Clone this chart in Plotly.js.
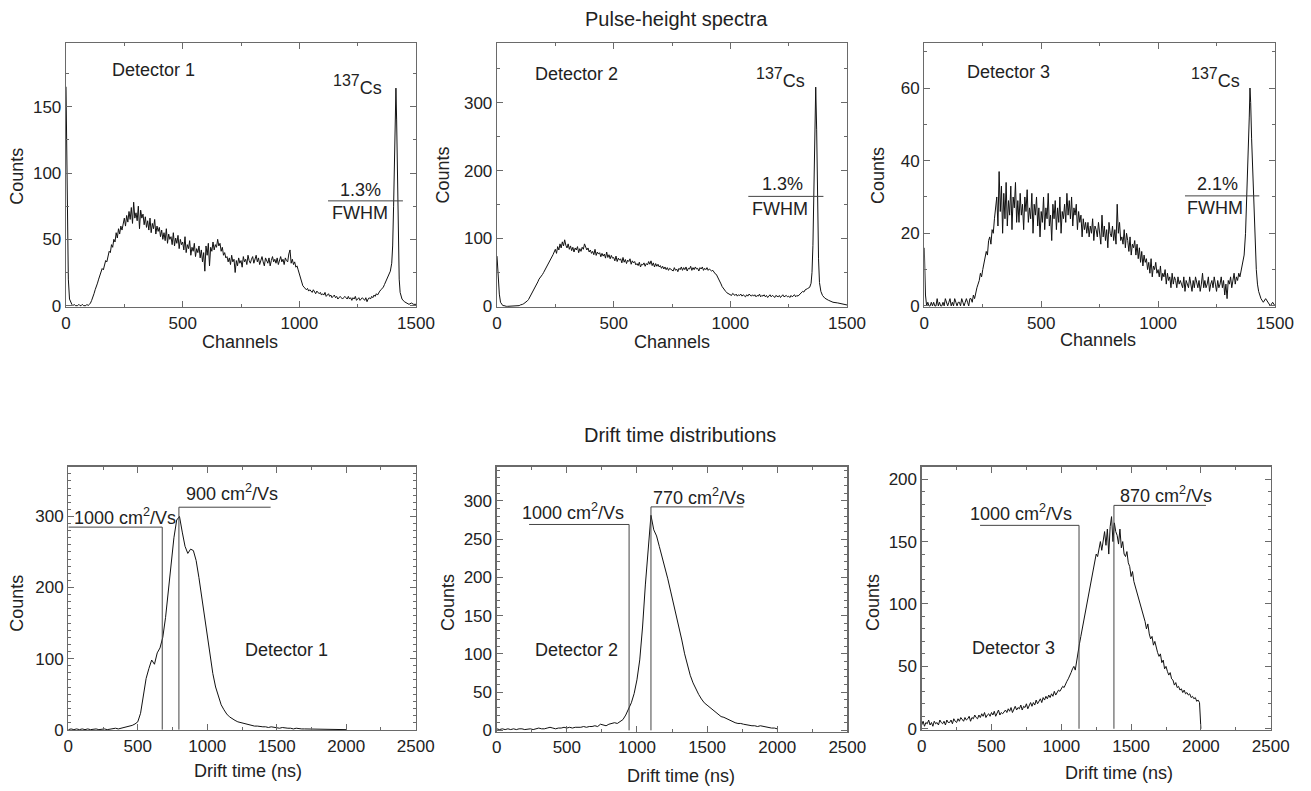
<!DOCTYPE html>
<html><head><meta charset="utf-8">
<script src="https://cdn.plot.ly/plotly-3.0.1.min.js"></script>
<style>html,body{margin:0;padding:0;background:#fff}#chart{width:1311px;height:791px}</style>
</head><body><div id="chart"></div>
<script>
// ---------- DATA ----------
const panelTitles = ['Pulse-height spectra', 'Drift time distributions'];
const detectorNames = ['Detector 1', 'Detector 2', 'Detector 3'];
const fwhmLabels = ['1.3%', '1.3%', '2.1%'];
const mobilityLabels = [
  ['1000 cm<sup>2</sup>/Vs', '900 cm<sup>2</sup>/Vs'],
  ['1000 cm<sup>2</sup>/Vs', '770 cm<sup>2</sup>/Vs'],
  ['1000 cm<sup>2</sup>/Vs', '870 cm<sup>2</sup>/Vs']
];
// drift times (ns) corresponding to the marked mobilities
const mobilityTimes = [[676, 796], [944, 1100], [1127, 1377]];
// FWHM level (counts) of the 137Cs photopeak
const fwhmLevels = [79, 162, 30.3];

// Pulse-height spectra: body sampled every 5 channels from 0
const phStep = 5;
const counts1Body = [
 165,60,20,5,2,1,0,1,0,0,0,1,0,0,1,0,0,0,1,0,
 1,2,4,6,9,12,14,17,20,23,25,28,27,32,34,33,38,41,40,46,
 44,50,48,55,51,58,54,60,57,63,66,60,68,63,71,65,74,62,78,66,
 70,64,75,58,72,66,69,61,67,59,64,57,66,55,62,58,65,54,60,56,
 59,52,57,50,55,49,58,47,54,50,52,46,55,45,51,47,53,43,50,46,
 48,42,52,40,46,43,49,38,44,41,47,37,43,40,45,36,42,33,40,26,
 45,38,47,30,44,41,48,42,46,44,50,45,47,41,44,38,40,36,37,33,
 36,31,38,33,35,25,34,30,36,32,34,29,37,33,35,31,38,34,32,35,
 37,32,35,38,33,36,31,35,37,33,30,36,34,32,36,30,34,37,33,35,
 32,36,31,34,37,33,35,31,36,34,33,39,42,32,35,31,33,29,30,27,
 24,20,17,15,14,13,12,13,11,12,11,10,12,10,9,11,10,9,10,8,
 9,8,10,7,8,9,7,8,6,7,8,6,7,5,6,7,6,5,6,7,
 6,5,7,5,6,4,6,5,7,4,5,6,4,5,6,5,4,6,3,5,
 6,5,7,6,8,7,9,8,10,11,12,13,14,16,18,20,22];
const peak1Ch = [1390,1396,1400,1404,1408,1411,1414,1417,1420,1424,1428,1432,1440,1450,1460,1470,1480,1490,1500];
const peak1Counts = [26,32,45,75,115,150,164,140,95,48,20,10,5,3,2,1,2,1,1];

const counts2Body = [
 74,40,18,6,3,1,1,0,0,0,0,0,1,0,0,1,0,1,1,1,
 2,2,3,4,5,6,8,10,13,16,20,22,26,29,33,36,40,42,45,47,
 50,53,56,60,62,66,70,72,76,80,84,78,88,83,92,86,95,89,98,90,
 86,92,84,89,82,87,80,86,83,88,79,85,81,87,84,92,88,83,86,80,
 83,78,81,76,84,75,80,77,79,73,78,74,77,71,80,72,76,70,75,71,
 72,67,74,66,71,68,70,64,72,65,69,63,68,66,70,62,67,64,66,61,
 63,60,65,58,62,61,64,59,63,61,66,62,67,60,64,58,63,59,62,58,
 60,56,59,55,58,54,57,53,56,55,54,52,57,53,55,51,56,54,58,53,
 57,54,58,52,56,55,59,53,57,54,58,55,56,52,57,55,58,53,56,54,
 57,53,55,54,52,53,50,48,47,44,40,36,33,29,26,24,22,20,19,18,
 18,16,19,17,16,18,15,17,16,18,15,17,16,14,17,15,18,16,15,17,
 15,17,14,16,15,18,14,16,15,17,14,16,13,15,17,14,16,15,13,16,
 15,14,16,13,15,17,14,15,16,14,15,13,16,14,15,17,14,16,15,17,
 18,20,22,21,24];
const peak2Ch = [1330,1340,1346,1350,1354,1358,1362,1366,1370,1374,1378,1382,1388,1395,1405,1420,1440,1460,1480,1500];
const peak2Counts = [26,28,34,50,90,170,270,323,260,150,70,35,22,16,12,9,6,5,4,2];

const counts3Body = [
 16,3,0,1,0,0,1,0,1,0,0,2,0,1,0,0,1,0,2,1,
 0,1,2,0,1,0,2,1,0,1,1,0,2,1,0,1,2,1,0,2,
 2,1,3,2,4,5,6,7,9,8,10,12,13,15,14,18,19,17,21,20,
 24,28,30,22,37,26,33,20,31,24,34,22,29,25,33,21,30,27,34,23,
 29,23,31,25,28,21,30,26,32,23,27,24,31,20,28,25,30,22,27,19,
 26,23,30,21,27,24,31,22,25,18,28,24,29,21,27,23,30,20,26,24,
 28,23,31,25,29,24,30,22,27,25,28,21,26,23,25,19,24,21,23,20,
 23,19,22,20,24,18,22,21,19,23,20,17,25,19,22,18,21,16,23,20,
 19,22,18,21,17,28,20,23,18,19,17,21,16,20,18,15,19,14,17,16,
 18,14,17,13,16,12,15,11,14,12,13,10,12,9,13,8,11,10,12,9,
 10,8,11,7,9,8,10,6,9,7,8,5,9,6,8,7,5,8,6,7,
 6,5,8,4,7,6,5,8,6,4,7,5,8,6,5,7,4,6,9,5,
 7,5,6,8,4,6,7,5,8,6,4,7,5,6,8,5,7,3,6,2,
 7,6,8,5,7,9,6,8,7,9,8,10,12];
const peak3Ch = [1368,1374,1380,1385,1390,1393,1396,1400,1405,1410,1415,1420,1425,1430,1440,1450,1460,1470,1480,1490,1500];
const peak3Counts = [14,20,30,40,52,60,56,46,36,26,17,10,6,4,2,1,2,1,0,1,0];

// Drift time distributions (ns): sampling step per detector, starting at 0 ns
const dtSteps = [20, 20, 10];
const drift1 = [0,1,0,1,0,1,0,1,0,1,
 1,0,1,1,0,1,1,2,1,2,
 2,3,4,6,8,11,23,48,72,86,
 98,92,108,115,130,158,196,238,270,295,
 300,278,258,248,254,252,238,214,186,158,
 130,102,79,60,46,35,28,22,18,15,
 13,11,10,8,7,6,6,5,5,4,
 4,4,3,4,3,3,2,3,2,2,
 2,1,2,1,1,1,1,0,1,1,
 0,1,0,1,0,0,0,0,0,0,
 0];
const drift2 = [2,1,2,1,2,1,2,1,2,2,
 1,2,2,1,2,3,2,2,3,4,
 3,2,3,3,4,3,4,3,4,4,
 4,5,4,5,5,6,5,8,7,6,
 8,9,10,9,12,14,20,27,36,48,
 66,92,135,190,242,281,262,254,240,226,
 214,198,182,167,152,136,118,100,86,72,
 62,54,47,41,36,33,30,26,24,21,
 18,17,15,14,12,10,9,9,8,7,
 7,6,6,5,6,5,4,4,3,3,
 2];
const drift3 = [
 3,6,2,5,4,7,3,5,2,6,4,5,3,7,5,4,6,3,7,5,
 5,7,4,8,6,5,8,6,9,7,6,9,7,8,10,6,9,8,11,9,
 8,11,9,12,10,13,9,11,12,10,13,11,14,10,12,15,11,13,12,14,
 15,13,16,14,17,13,16,18,15,17,16,19,15,18,17,20,16,19,21,18,
 21,19,23,20,22,24,21,25,23,26,24,27,25,28,26,30,27,29,31,30,
 32,34,33,36,38,40,42,45,48,50,47,55,62,68,74,80,86,92,98,104,
 112,117,124,130,133,140,138,145,150,143,152,158,147,160,140,162,170,150,165,158,
 155,148,160,145,150,140,138,142,133,130,122,126,118,114,110,106,101,98,95,91,
 86,80,84,76,72,74,67,70,64,61,58,60,53,55,48,50,46,43,45,40,
 39,35,37,33,34,31,32,29,31,28,29,27,28,25,26,24,25,22,23,21,
 0];

const phTicks = [0, 500, 1000, 1500];
const dtTicks = [0, 500, 1000, 1500, 2000, 2500];

// ---------- BUILD ----------
function grid(n, step) { const a = []; for (let i = 0; i < n; i++) a.push(i * step); return a; }
const phX = [
  grid(counts1Body.length, phStep).concat(peak1Ch),
  grid(counts2Body.length, phStep).concat(peak2Ch),
  grid(counts3Body.length, phStep).concat(peak3Ch)
];
const phY = [counts1Body.concat(peak1Counts), counts2Body.concat(peak2Counts), counts3Body.concat(peak3Counts)];
const dtY = [drift1, drift2, drift3];
const dtX = dtY.map((d, i) => grid(d.length, dtSteps[i]));

const W = 1311, H = 791;
const px = v => v / W, py = v => 1 - v / H;
const FONT = '"Liberation Sans", Arial, Helvetica, sans-serif';
const TXT = '#222';
const FRAME = '#6a6a6a';

const lineStyle = {color: '#111', width: 1};
const traces = [];
for (let i = 0; i < 3; i++) {
  traces.push({x: phX[i], y: phY[i], xaxis: 'x' + (i === 0 ? '' : i + 1), yaxis: 'y' + (i === 0 ? '' : i + 1),
    type: 'scatter', mode: 'lines', line: lineStyle, showlegend: false, hoverinfo: 'skip'});
}
for (let i = 0; i < 3; i++) {
  traces.push({x: dtX[i], y: dtY[i], xaxis: 'x' + (i + 4), yaxis: 'y' + (i + 4),
    type: 'scatter', mode: 'lines', line: lineStyle, showlegend: false, hoverinfo: 'skip'});
}

const axBase = {showline: true, linecolor: FRAME, linewidth: 1.3, mirror: 'ticks', ticks: 'inside',
  ticklen: 6, tickcolor: FRAME, showgrid: false, zeroline: false,
  tickfont: {family: FONT, size: 17, color: TXT}, fixedrange: true};
const mk = (o, minorDtick) => Object.assign({}, axBase, o,
  {minor: {ticks: 'inside', ticklen: 3, tickcolor: FRAME, dtick: minorDtick, showgrid: false}});

// pixel frames of the six panels [left, right, top, bottom]
const frames = [
  [66, 416, 43, 307], [497, 847, 43, 307], [924.3, 1275, 43, 307],
  [68.3, 415.7, 466.7, 730], [496.7, 847.3, 466.7, 731.5], [921.7, 1270.7, 466.7, 730]
];
const yRanges = [[-1, 198], [-1, 388], [-0.3, 72.4], [-0.5, 370], [-1.5, 344.5], [-1, 210]];
const yDticks = [50, 100, 20, 100, 50, 50];
const yMinor = [25, 50, 10, 10, 10, 10];

const layout = {width: W, height: H, margin: {l: 0, r: 0, t: 0, b: 0}, paper_bgcolor: '#fff', plot_bgcolor: '#fff',
  font: {family: FONT, color: TXT}, showlegend: false, annotations: [], shapes: []};

for (let i = 0; i < 6; i++) {
  const f = frames[i];
  const xs = i === 0 ? '' : String(i + 1);
  const top = i < 3;
  layout['xaxis' + xs] = mk({domain: [px(f[0]), px(f[1])], anchor: 'y' + xs,
    range: top ? [0, 1500] : [0, 2500], tickvals: top ? phTicks : dtTicks, ticktext: (top ? phTicks : dtTicks).map(String)}, 250);
  layout['yaxis' + xs] = mk({domain: [py(f[3]), py(f[2])], anchor: 'x' + xs,
    range: yRanges[i], dtick: yDticks[i], tick0: 0}, yMinor[i]);
}

const ann = (o) => layout.annotations.push(Object.assign({showarrow: false, font: {family: FONT, size: 18, color: TXT}}, o));

// panel titles
ann({text: panelTitles[0], xref: 'paper', yref: 'paper', x: px(676), y: py(19), xanchor: 'center', yanchor: 'middle', font: {family: FONT, size: 20, color: TXT}});
ann({text: panelTitles[1], xref: 'paper', yref: 'paper', x: px(680), y: py(435), xanchor: 'center', yanchor: 'middle', font: {family: FONT, size: 20, color: TXT}});

// axis titles
const yTitlePos = [[16.7, 176], [442.5, 175], [878, 175], [16.7, 603], [448, 603], [873, 603]];
const xTitlePos = [[240, 342.5], [672, 341.7], [1098, 340], [247.5, 770.7], [681, 776], [1119, 772.7]];
for (let i = 0; i < 6; i++) {
  ann({text: 'Counts', xref: 'paper', yref: 'paper', x: px(yTitlePos[i][0]), y: py(yTitlePos[i][1]), textangle: -90, xanchor: 'center', yanchor: 'middle'});
  ann({text: i < 3 ? 'Channels' : 'Drift time (ns)', xref: 'paper', yref: 'paper', x: px(xTitlePos[i][0]), y: py(xTitlePos[i][1]), xanchor: 'center', yanchor: 'middle'});
}

// top row annotations (data coordinates)
const detPosTop = [[189, 177.5], [156, 342], [174, 64.3]];
const csPos = [[1136, 166], [1102, 336], [1132, 62.8]];
const pctPos = [[1359, 87.5], [1320, 180], [1350, 33.7]];
const fwhmTextPos = [[1262, 70], [1213, 144], [1242, 27]];
const fwhmLine = [[1123, 1444], [1077, 1399], [1115, 1433]];
for (let i = 0; i < 3; i++) {
  const xs = i === 0 ? '' : String(i + 1);
  const xr = 'x' + xs, yr = 'y' + xs;
  ann({text: detectorNames[i], xref: xr, yref: yr, x: detPosTop[i][0], y: detPosTop[i][1], xanchor: 'left', yanchor: 'middle'});
  ann({text: '<sup><span style="font-size:16px">137</span></sup>Cs', xref: xr, yref: yr, x: csPos[i][0], y: csPos[i][1], xanchor: 'left', yanchor: 'middle', font: {family: FONT, size: 18, color: TXT}});
  ann({text: fwhmLabels[i], xref: xr, yref: yr, x: pctPos[i][0], y: pctPos[i][1], xanchor: 'right', yanchor: 'middle'});
  ann({text: 'FWHM', xref: xr, yref: yr, x: fwhmTextPos[i][0], y: fwhmTextPos[i][1], xanchor: 'center', yanchor: 'middle'});
  layout.shapes.push({type: 'line', xref: xr, yref: yr, x0: fwhmLine[i][0], x1: fwhmLine[i][1], y0: fwhmLevels[i], y1: fwhmLevels[i], line: {color: '#444', width: 1}});
}

// bottom row annotations
const detPosBot = [[1259, 111.5], [261, 105], [346, 65]];
const mobText = [[[24, 300.6], [832, 333]], [[166, 286], [1100, 306]], [[334, 173], [1408, 188]]];
// [x start of leader, y level] for the two mobility markers
const leaderA = [[0, 285], [231, 269], [418, 163]];
const leaderB = [[1456, 313], [1759, 292], [2036, 179]];
for (let i = 0; i < 3; i++) {
  const xr = 'x' + (i + 4), yr = 'y' + (i + 4);
  ann({text: detectorNames[i], xref: xr, yref: yr, x: detPosBot[i][0], y: detPosBot[i][1], xanchor: 'left', yanchor: 'middle'});
  ann({text: mobilityLabels[i][0], xref: xr, yref: yr, x: mobText[i][0][0], y: mobText[i][0][1], xanchor: 'left', yanchor: 'middle'});
  ann({text: mobilityLabels[i][1], xref: xr, yref: yr, x: mobText[i][1][0], y: mobText[i][1][1], xanchor: 'left', yanchor: 'middle'});
  const tA = mobilityTimes[i][0], tB = mobilityTimes[i][1];
  layout.shapes.push({type: 'path', xref: xr, yref: yr, path: `M ${leaderA[i][0]},${leaderA[i][1]} L ${tA},${leaderA[i][1]} L ${tA},0`, line: {color: '#444', width: 1}});
  layout.shapes.push({type: 'path', xref: xr, yref: yr, path: `M ${leaderB[i][0]},${leaderB[i][1]} L ${tB},${leaderB[i][1]} L ${tB},0`, line: {color: '#444', width: 1}});
}

Plotly.newPlot('chart', traces, layout, {staticPlot: true, displayModeBar: false});
</script></body></html>
